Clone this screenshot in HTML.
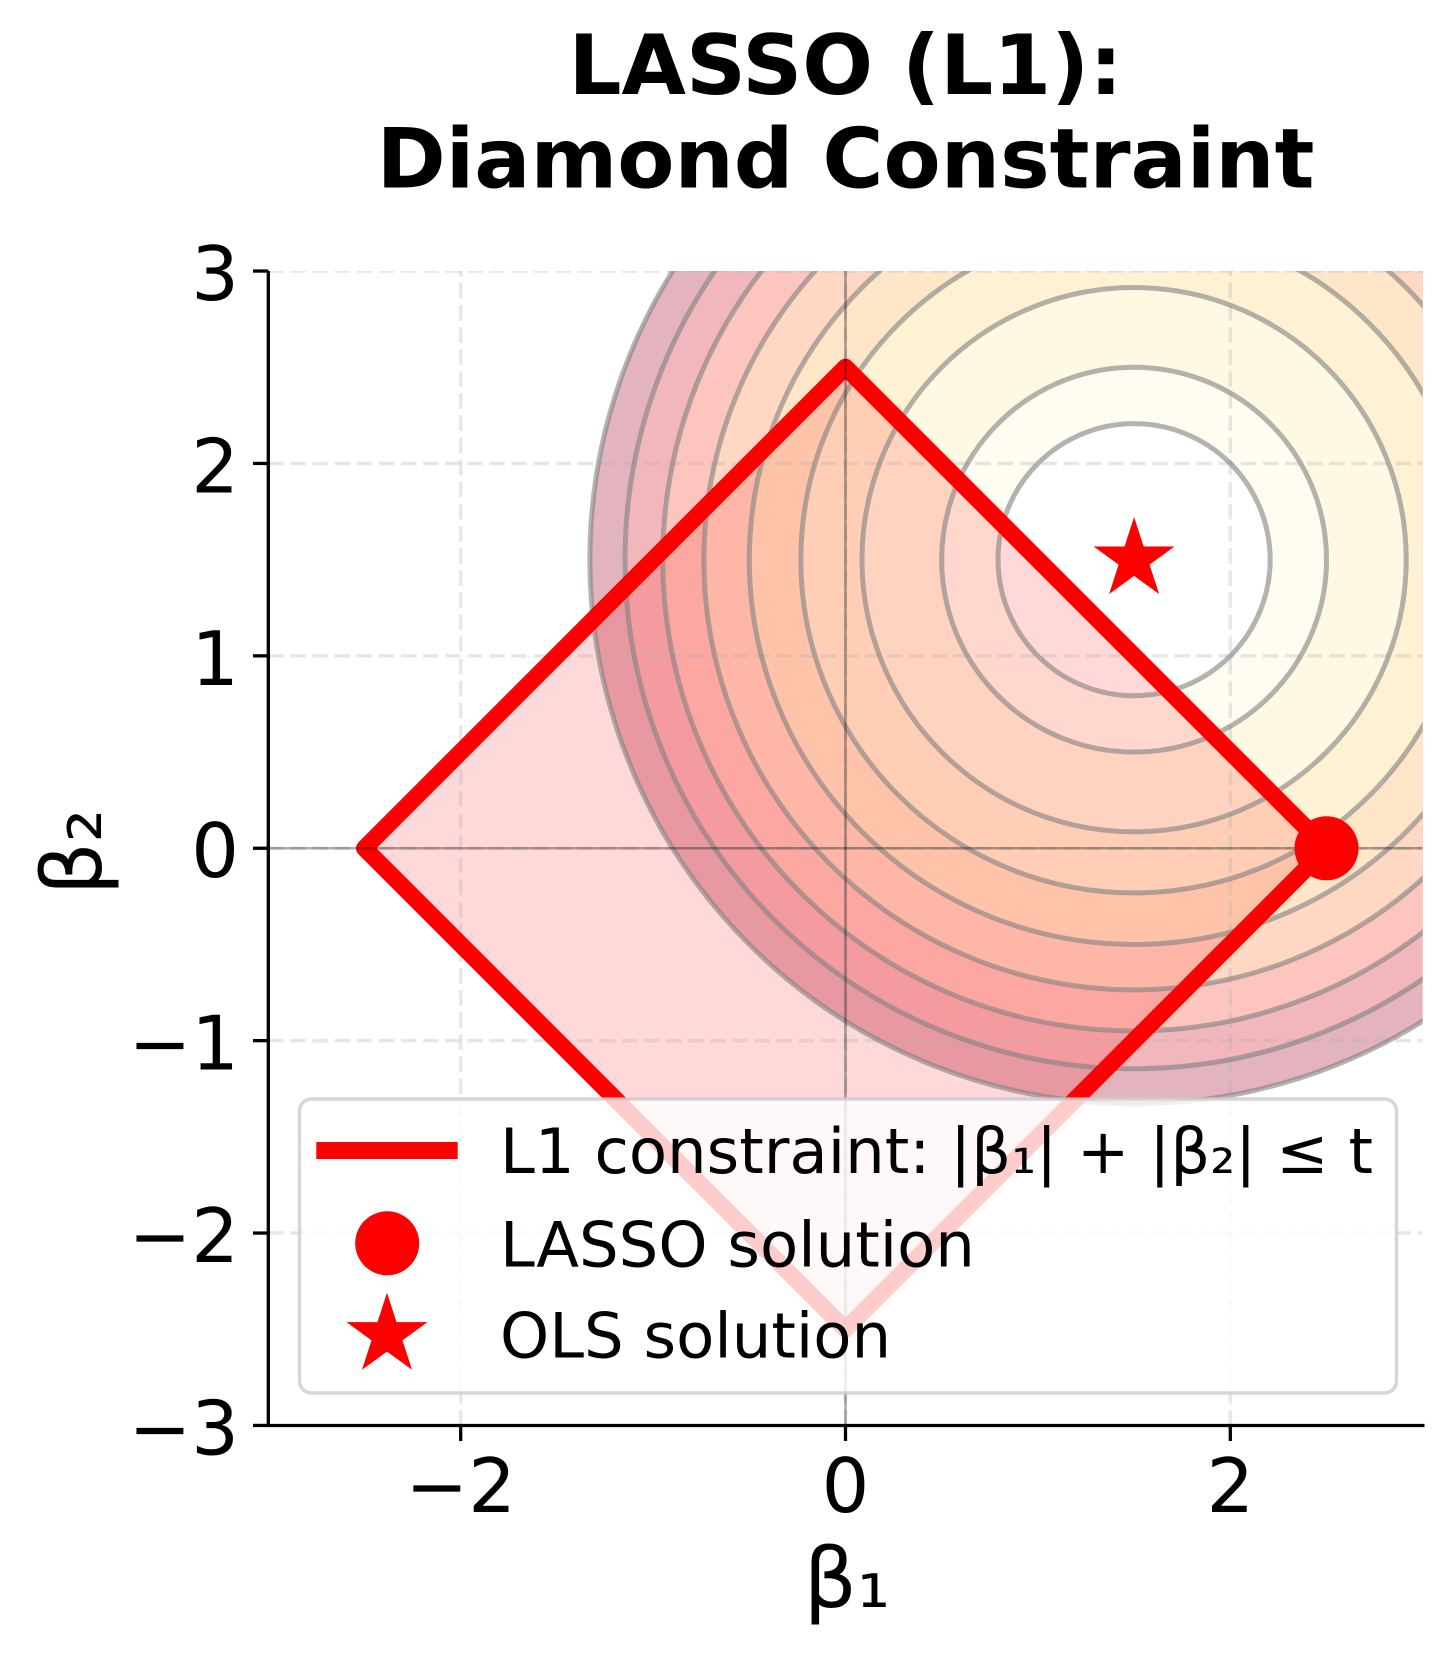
<!DOCTYPE html>
<html>
<head>
<meta charset="utf-8">
<style>
  html, body { margin: 0; padding: 0; background: #ffffff; }
  svg { display: block; }
  text { font-family: "DejaVu Sans", "Liberation Sans", sans-serif; fill: #000; }
</style>
</head>
<body>
<svg width="1452" height="1656" viewBox="0 0 1452 1656" xmlns="http://www.w3.org/2000/svg">
  <rect x="0" y="0" width="1452" height="1656" fill="#ffffff"/>
  <defs>
    <clipPath id="ax">
      <rect x="268.3" y="271" width="1154.4" height="1154.5"/>
    </clipPath>
  </defs>

  <!-- Title -->
  <text x="845.5" y="94" font-size="83.3" font-weight="bold" text-anchor="middle">LASSO (L1):</text>
  <text x="845.5" y="187.3" font-size="83.3" font-weight="bold" text-anchor="middle">Diamond Constraint</text>

  <g clip-path="url(#ax)">
    <!-- contourf bands (pre-blended YlOrRd, alpha 0.3) -->
    <circle cx="1134.1" cy="559.65" r="544.2" fill="rgb(227,179,190)"/>
    <circle cx="1134.1" cy="559.65" r="509.05" fill="rgb(242,183,188)"/>
    <circle cx="1134.1" cy="559.65" r="471.3" fill="rgb(252,197,190)"/>
    <circle cx="1134.1" cy="559.65" r="430.2" fill="rgb(254,216,195)"/>
    <circle cx="1134.1" cy="559.65" r="384.8" fill="rgb(255,230,200)"/>
    <circle cx="1134.1" cy="559.65" r="333.25" fill="rgb(255,242,212)"/>
    <circle cx="1134.1" cy="559.65" r="272.1" fill="rgb(255,248,226)"/>
    <circle cx="1134.1" cy="559.65" r="192.4" fill="rgb(255,253,241)"/>
    <circle cx="1134.1" cy="559.65" r="136.05" fill="#ffffff"/>

    <!-- diamond fill -->
    <polygon points="1326.5,848.25 845.5,367.25 364.5,848.25 845.5,1329.25" fill="#ff0000" fill-opacity="0.15"/>

    <!-- grid -->
    <g stroke="#b0b0b0" stroke-opacity="0.3" stroke-width="3.5" stroke-dasharray="15.4 6.7" fill="none">
      <line x1="268.3" y1="271.05" x2="1422.7" y2="271.05"/>
      <line x1="268.3" y1="463.45" x2="1422.7" y2="463.45"/>
      <line x1="268.3" y1="655.85" x2="1422.7" y2="655.85"/>
      <line x1="268.3" y1="848.25" x2="1422.7" y2="848.25"/>
      <line x1="268.3" y1="1040.65" x2="1422.7" y2="1040.65"/>
      <line x1="268.3" y1="1233.05" x2="1422.7" y2="1233.05"/>
      <line x1="460.7" y1="1425.5" x2="460.7" y2="271"/>
      <line x1="845.5" y1="1425.5" x2="845.5" y2="271"/>
      <line x1="1230.3" y1="1425.5" x2="1230.3" y2="271"/>
    </g>

    <!-- contour lines -->
    <g fill="none" stroke="#808080" stroke-opacity="0.6" stroke-width="5">
      <circle cx="1134.1" cy="559.65" r="136.05"/>
      <circle cx="1134.1" cy="559.65" r="192.4"/>
      <circle cx="1134.1" cy="559.65" r="272.1"/>
      <circle cx="1134.1" cy="559.65" r="333.25"/>
      <circle cx="1134.1" cy="559.65" r="384.8"/>
      <circle cx="1134.1" cy="559.65" r="430.2"/>
      <circle cx="1134.1" cy="559.65" r="471.3"/>
      <circle cx="1134.1" cy="559.65" r="509.05"/>
      <circle cx="1134.1" cy="559.65" r="544.2"/>
    </g>

    <!-- diamond outline -->
    <polygon points="1326.5,848.25 845.5,367.25 364.5,848.25 845.5,1329.25" fill="none" stroke="#ff0000" stroke-width="17" stroke-linejoin="round"/>

    <!-- axhline / axvline -->
    <line x1="268.3" y1="848.25" x2="1422.7" y2="848.25" stroke="#000" stroke-opacity="0.32" stroke-width="2.6"/>
    <line x1="845.5" y1="271" x2="845.5" y2="1425.5" stroke="#000" stroke-opacity="0.32" stroke-width="2.6"/>
  </g>

  <!-- OLS star -->
  <path transform="translate(1134.1,559.65)" d="M0,-42.6 L9.56,-13.16 L40.51,-13.16 L15.47,5.03 L25.04,34.46 L0,16.27 L-25.04,34.46 L-15.47,5.03 L-40.51,-13.16 L-9.56,-13.16 Z" fill="#ff0000"/>
  <!-- LASSO dot -->
  <circle cx="1326.5" cy="848.25" r="32" fill="#ff0000"/>

  <!-- spines -->
  <line x1="268.3" y1="271" x2="268.3" y2="1427" stroke="#000" stroke-width="3.3"/>
  <line x1="266.6" y1="1425.5" x2="1424.5" y2="1425.5" stroke="#000" stroke-width="3.3"/>

  <!-- ticks -->
  <g stroke="#000" stroke-width="3.3">
    <line x1="253" y1="271.05" x2="268.3" y2="271.05"/>
    <line x1="253" y1="463.45" x2="268.3" y2="463.45"/>
    <line x1="253" y1="655.85" x2="268.3" y2="655.85"/>
    <line x1="253" y1="848.25" x2="268.3" y2="848.25"/>
    <line x1="253" y1="1040.65" x2="268.3" y2="1040.65"/>
    <line x1="253" y1="1233.05" x2="268.3" y2="1233.05"/>
    <line x1="253" y1="1425.45" x2="268.3" y2="1425.45"/>
    <line x1="460.7" y1="1425.5" x2="460.7" y2="1441"/>
    <line x1="845.5" y1="1425.5" x2="845.5" y2="1441"/>
    <line x1="1230.3" y1="1425.5" x2="1230.3" y2="1441"/>
  </g>

  <!-- y tick labels -->
  <g font-size="75" text-anchor="end">
    <text x="239" y="300">3</text>
    <text x="239" y="492.4">2</text>
    <text x="239" y="684.8">1</text>
    <text x="239" y="877.2">0</text>
    <text x="239" y="1069.6">−1</text>
    <text x="239" y="1262">−2</text>
    <text x="239" y="1454.4">−3</text>
  </g>
  <!-- x tick labels -->
  <g font-size="75" text-anchor="middle">
    <text x="460.7" y="1512">−2</text>
    <text x="845.5" y="1512">0</text>
    <text x="1230.3" y="1512">2</text>
  </g>

  <!-- axis labels -->
  <text x="847" y="1607" font-size="83.3" text-anchor="middle">β₁</text>
  <text transform="translate(101,852) rotate(-90)" font-size="83.3" text-anchor="middle">β₂</text>

  <!-- legend -->
  <rect x="299.5" y="1099" width="1097" height="294" rx="12" ry="12" fill="#ffffff" fill-opacity="0.8" stroke="#cccccc" stroke-opacity="0.8" stroke-width="3.5"/>
  <line x1="316.3" y1="1150.5" x2="457.7" y2="1150.5" stroke="#ff0000" stroke-width="17"/>
  <circle cx="387.2" cy="1243.3" r="32" fill="#ff0000"/>
  <path transform="translate(387,1335.3)" d="M0,-42.6 L9.56,-13.16 L40.51,-13.16 L15.47,5.03 L25.04,34.46 L0,16.27 L-25.04,34.46 L-15.47,5.03 L-40.51,-13.16 L-9.56,-13.16 Z" fill="#ff0000"/>
  <g font-size="62.5">
    <text x="500" y="1173">L1 constraint: |β₁| + |β₂| ≤ t</text>
    <text x="500" y="1266.5">LASSO solution</text>
    <text x="500" y="1357.3">OLS solution</text>
  </g>
</svg>
</body>
</html>
